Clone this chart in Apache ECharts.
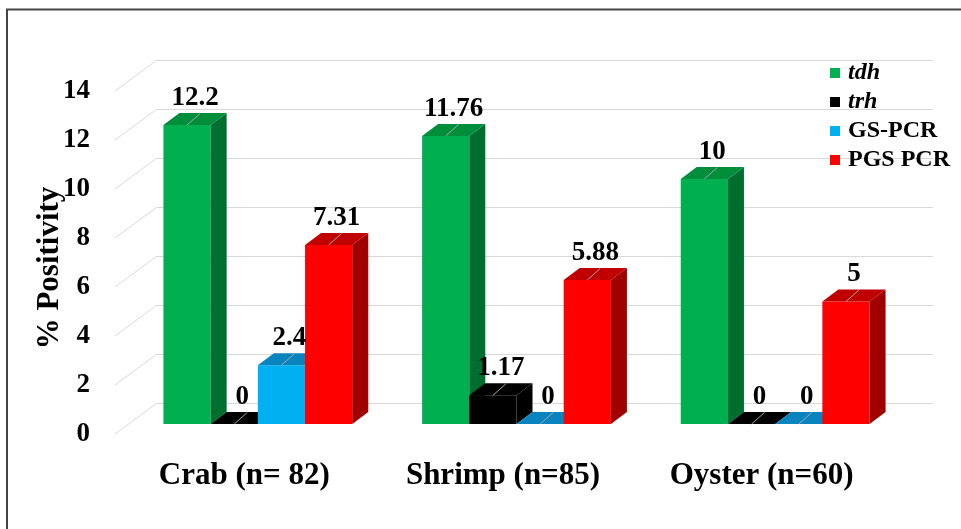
<!DOCTYPE html>
<html>
<head>
<meta charset="utf-8">
<script src="https://cdn.jsdelivr.net/npm/echarts@6/dist/echarts.min.js"></script>
<style>
  html, body { margin: 0; padding: 0; background: #ffffff; }
  #chart { width: 961px; height: 529px; }
</style>
</head>
<body>
<div id="chart"></div>
<script>
// ---- data ----
const categories = ['Crab (n= 82)', 'Shrimp (n=85)', 'Oyster (n=60)'];
const seriesNames = ['tdh', 'trh', 'GS-PCR', 'PGS PCR'];
const tdhValues = [12.2, 11.76, 10];
const trhValues = [0, 1.17, 0];
const gsPcrValues = [2.4, 0, 0];
const pgsPcrValues = [7.31, 5.88, 5];
const yTicks = [0, 2, 4, 6, 8, 10, 12, 14];

// ---- layout of the oblique 3-D frame ----
const FONT = "'Liberation Serif', 'Times New Roman', serif";
const FRONT = { left: 115, bottom: 434, width: 776, height: 343 }; // front plane (axis labels)
const WALL = { dx: 42, dy: -31 };        // back wall offset from the front plane
const BAR_SHIFT = { dx: 13.5, dy: -10 }; // plane holding the bar front faces
const BAR_DEPTH = { dx: 16, dy: -12 };   // depth of each column
const GROUP_GAP = 0.27;                  // free share of every category band

const palette = [
  { front: '#00B050', top: '#008E3B', side: '#006E2E' },
  { front: '#000000', top: '#000000', side: '#000000' },
  { front: '#00B0F0', top: '#0A84BE', side: '#0074A6' },
  { front: '#FF0000', top: '#C00000', side: '#A00000' }
];
const valueSets = [tdhValues, trhValues, gsPcrValues, pgsPcrValues];

function gridAt(shift) {
  return {
    left: FRONT.left + shift.dx,
    top: FRONT.bottom - FRONT.height + shift.dy,
    width: FRONT.width,
    height: FRONT.height,
    outerBoundsMode: 'none'
  };
}

function valueAxis(gridIndex, extra) {
  return Object.assign({
    gridIndex: gridIndex,
    type: 'value',
    min: yTicks[0],
    max: yTicks[yTicks.length - 1],
    interval: yTicks[1] - yTicks[0],
    axisLine: { show: false },
    axisTick: { show: false },
    axisLabel: { show: false },
    splitLine: { show: false }
  }, extra || {});
}

function categoryAxis(gridIndex, extra) {
  return Object.assign({
    gridIndex: gridIndex,
    type: 'category',
    data: categories,
    axisLine: { show: false },
    axisTick: { show: false },
    axisLabel: { show: false },
    splitLine: { show: false }
  }, extra || {});
}

// one 3-D column: front face, right side, top, leader line and value label
function columnRenderer(seriesIdx) {
  return function (params, api) {
    const cat = api.value(0);
    const v = api.value(1);
    const base = api.coord([cat, 0]);
    const head = api.coord([cat, v]);
    const band = api.size([1, 0])[0];
    const n = seriesNames.length;
    const barW = band * (1 - GROUP_GAP) / n;
    const x0 = base[0] - barW * n / 2 + seriesIdx * barW;
    const y0 = base[1];
    const y1 = head[1];
    const c = palette[seriesIdx];
    const dx = BAR_DEPTH.dx, dy = BAR_DEPTH.dy;
    const children = [];
    if (y0 - y1 > 0.5) {
      children.push({
        type: 'rect',
        shape: { x: x0, y: y1, width: barW, height: y0 - y1 },
        style: { fill: c.front }
      });
      children.push({
        type: 'polygon',
        shape: { points: [[x0 + barW, y1], [x0 + barW + dx, y1 + dy], [x0 + barW + dx, y0 + dy], [x0 + barW, y0]] },
        style: { fill: c.side }
      });
    }
    children.push({
      type: 'polygon',
      shape: { points: [[x0, y1], [x0 + dx, y1 + dy], [x0 + barW + dx, y1 + dy], [x0 + barW, y1]] },
      style: { fill: c.top }
    });
    const cx = x0 + barW / 2;
    children.push({
      type: 'line',
      z2: 20,
      shape: { x1: cx, y1: y1, x2: cx + 13, y2: y1 - 11.5 },
      style: { stroke: '#A6A6A6', lineWidth: 1 }
    });
    children.push({
      type: 'text',
      z2: 30,
      style: {
        text: String(v),
        x: cx + 8,
        y: y1 - 27,
        align: 'center',
        verticalAlign: 'middle',
        fontSize: 27,
        fontWeight: 'bold',
        fontFamily: FONT,
        fill: '#000000'
      }
    });
    return { type: 'group', children: children };
  };
}

const columnSeries = seriesNames.map(function (name, s) {
  return {
    name: name,
    type: 'custom',
    xAxisIndex: 1,
    yAxisIndex: 1,
    z: 3,
    itemStyle: { color: palette[s].front },
    encode: { x: 0, y: 1 },
    data: valueSets[s].map(function (v, i) { return [i, v]; }),
    renderItem: columnRenderer(s)
  };
});

// slanted edges joining the front plane to the back-wall gridlines
const wallEdges = {
  name: 'wall',
  type: 'custom',
  xAxisIndex: 0,
  yAxisIndex: 0,
  z: 1,
  silent: true,
  encode: { x: 0, y: 1 },
  data: yTicks.map(function (t) { return [0, t]; }),
  renderItem: function (params, api) {
    const p = api.coord([0, api.value(1)]);
    const x = params.coordSys.x;
    return {
      type: 'line',
      shape: { x1: x, y1: p[1], x2: x + WALL.dx, y2: p[1] + WALL.dy },
      style: { stroke: '#D9D9D9', lineWidth: 1 }
    };
  }
};

const chart = echarts.init(document.getElementById('chart'), null, { renderer: 'canvas' });
chart.setOption({
  animation: false,
  backgroundColor: '#ffffff',
  grid: [gridAt({ dx: 0, dy: 0 }), gridAt(BAR_SHIFT), gridAt(WALL)],
  xAxis: [
    categoryAxis(0, {
      axisLabel: {
        show: true, margin: 26, fontSize: 31, fontWeight: 'bold',
        fontFamily: FONT, color: '#000000', interval: 0
      }
    }),
    categoryAxis(1),
    categoryAxis(2)
  ],
  yAxis: [
    valueAxis(0, {
      axisLabel: {
        show: true, margin: 25, fontSize: 27, fontWeight: 'bold',
        fontFamily: FONT, color: '#000000'
      }
    }),
    valueAxis(1),
    valueAxis(2, { splitLine: { show: true, lineStyle: { color: '#D9D9D9', width: 1 } } })
  ],
  legend: {
    data: seriesNames,
    orient: 'vertical',
    left: 825,
    top: 56,
    icon: 'rect',
    itemWidth: 10,
    itemHeight: 10,
    itemGap: 5,
    formatter: function (name) {
      return (name === 'tdh' || name === 'trh') ? '{it|' + name + '}' : '{rg|' + name + '}';
    },
    textStyle: {
      color: '#000000',
      rich: {
        it: { fontSize: 24, fontWeight: 'bold', fontStyle: 'italic', fontFamily: FONT, lineHeight: 24, padding: [0, 0, 0, 3] },
        rg: { fontSize: 24, fontWeight: 'bold', fontFamily: FONT, lineHeight: 24, padding: [0, 0, 0, 3] }
      }
    }
  },
  graphic: [
    {
      type: 'rect',
      silent: true,
      shape: { x: 7, y: 9.5, width: 980, height: 560 },
      style: { fill: 'none', stroke: '#444444', lineWidth: 2 }
    },
    {
      type: 'text',
      x: 50,
      y: 268,
      rotation: Math.PI / 2,
      style: {
        text: '% Positivity',
        align: 'center',
        verticalAlign: 'middle',
        fontSize: 31,
        fontWeight: 'bold',
        fontFamily: FONT,
        fill: '#000000'
      }
    }
  ],
  series: [wallEdges].concat(columnSeries)
});
</script>
</body>
</html>
